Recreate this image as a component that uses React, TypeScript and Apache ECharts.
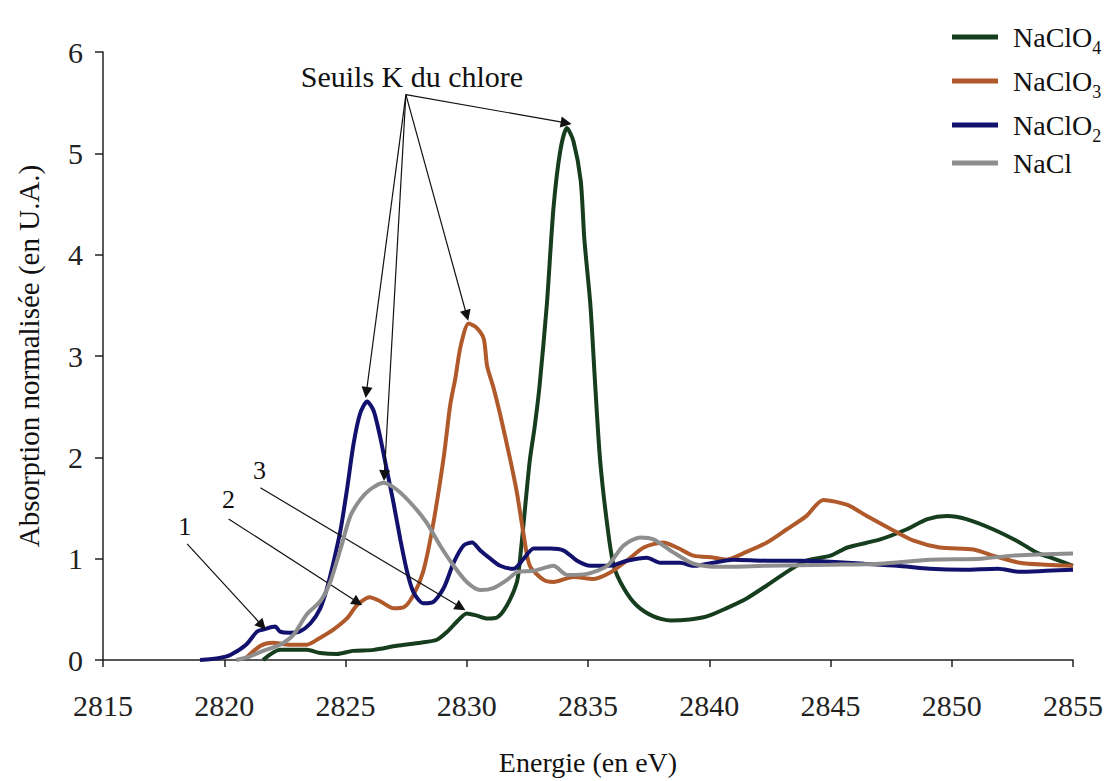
import React, { useEffect, useRef } from "react";
import * as echarts from "echarts";

// ---- axis ----
const xMin = 2815;
const xMax = 2855;
const xStep = 5;
const yMin = 0;
const yMax = 6;
const yStep = 1;

// ---- series (energy in eV, normalised absorption) ----
const seriesNames = ["NaClO4", "NaClO3", "NaClO2", "NaCl"];
const seriesColors = ["#163e1e", "#b05a2c", "#12126e", "#8e8e8e"];

const energyNaClO4 = [
  2821.6, 2822.3, 2823.4, 2823.96, 2824.65, 2825.3, 2826.16, 2827.12, 2828.1, 2828.77, 2829.2, 2829.6,
  2830.0, 2830.4, 2830.84, 2831.25, 2831.66, 2832.07, 2832.2, 2832.4, 2832.6, 2832.8, 2833.0, 2833.3,
  2833.58, 2833.86, 2834.13, 2834.4, 2834.7, 2834.85, 2835.1, 2835.3, 2835.5, 2835.8, 2836.06, 2836.47,
  2837.0, 2837.7, 2838.4, 2839.2, 2839.9, 2840.7, 2841.56, 2842.4, 2843.2, 2844.0, 2845.0, 2845.7,
  2847.05, 2848.15, 2849.0, 2849.8, 2850.6, 2851.7, 2852.8, 2853.5, 2854.2, 2855.0,
];
const valuesNaClO4 = [
  0.0, 0.1, 0.1, 0.07, 0.06, 0.09, 0.1, 0.14, 0.17, 0.2, 0.28, 0.38,
  0.46, 0.44, 0.41, 0.42, 0.54, 0.77, 1.0, 1.49, 1.97, 2.3, 2.7, 3.5,
  4.47, 5.03, 5.25, 5.12, 4.73, 4.15, 3.5, 2.7, 1.97, 1.32, 0.93, 0.71,
  0.54, 0.43, 0.39, 0.4, 0.43, 0.51, 0.61, 0.74, 0.87, 0.98, 1.03, 1.11,
  1.19, 1.29, 1.39, 1.42, 1.39, 1.29, 1.16, 1.06, 1.0, 0.93,
];

const energyNaClO3 = [
  2820.9, 2821.5, 2822.0, 2822.7, 2823.4, 2823.96, 2824.5, 2825.06, 2825.47, 2826.0, 2826.43, 2826.98,
  2827.4, 2827.8, 2828.2, 2828.6, 2829.05, 2829.32, 2829.53, 2829.75, 2830.08, 2830.4, 2830.7, 2830.84,
  2831.1, 2831.38, 2831.8, 2832.07, 2832.35, 2832.6, 2833.17, 2833.58, 2834.4, 2835.23, 2835.9, 2836.6,
  2837.3, 2838.1, 2838.67, 2839.35, 2840.2, 2840.7, 2841.56, 2842.38, 2843.2, 2844.0, 2844.7, 2845.7,
  2846.5, 2847.5, 2848.4, 2849.5, 2850.9, 2851.7, 2852.8, 2853.9, 2855.0,
];
const valuesNaClO3 = [
  0.02, 0.14, 0.17, 0.15, 0.15, 0.22, 0.3, 0.41, 0.54, 0.62, 0.58, 0.51,
  0.52, 0.64, 0.87, 1.32, 2.0, 2.52, 2.78, 3.1, 3.32, 3.28, 3.17, 2.9,
  2.69, 2.42, 1.97, 1.65, 1.23, 0.93, 0.79, 0.77, 0.82, 0.8, 0.86, 0.98,
  1.11, 1.16, 1.11, 1.03, 1.01, 0.99, 1.07, 1.16, 1.29, 1.42, 1.58, 1.53,
  1.42, 1.29, 1.18, 1.11, 1.09, 1.03, 0.96, 0.94, 0.93,
];

const energyNaClO2 = [
  2819.0, 2819.8, 2820.25, 2820.9, 2821.35, 2821.6, 2822.1, 2822.3, 2822.7, 2823.1, 2823.55, 2823.96,
  2824.24, 2824.5, 2824.8, 2825.06, 2825.33, 2825.6, 2825.89, 2826.16, 2826.43, 2826.7, 2826.98, 2827.26,
  2827.54, 2827.8, 2828.2, 2828.6, 2829.05, 2829.46, 2829.87, 2830.22, 2830.56, 2830.97, 2831.38, 2831.93,
  2832.35, 2832.76, 2833.45, 2834.0, 2834.55, 2835.1, 2835.9, 2836.6, 2837.43, 2837.98, 2838.8, 2839.35,
  2841.0, 2842.38, 2843.75, 2845.0, 2846.4, 2847.74, 2849.1, 2850.5, 2851.9, 2852.8, 2853.9, 2855.0,
];
const valuesNaClO2 = [
  0.0, 0.02, 0.05, 0.15, 0.28, 0.3, 0.33, 0.28, 0.27, 0.28, 0.36, 0.51,
  0.71, 0.96, 1.29, 1.68, 2.13, 2.43, 2.55, 2.46, 2.2, 1.88, 1.55, 1.19,
  0.87, 0.67, 0.56, 0.57, 0.71, 0.96, 1.13, 1.16, 1.08, 1.0, 0.93, 0.9,
  1.0, 1.1, 1.1, 1.08, 0.98, 0.93, 0.93, 0.98, 1.01, 0.96, 0.96, 0.93,
  0.99, 0.98, 0.98, 0.97, 0.95, 0.93, 0.9, 0.89, 0.9, 0.87, 0.88, 0.89,
];

const energyNaCl = [
  2820.5, 2821.0, 2821.6, 2822.3, 2822.86, 2823.4, 2823.96, 2824.37, 2824.8, 2825.2, 2825.6, 2826.0,
  2826.57, 2827.12, 2827.8, 2828.36, 2828.9, 2829.46, 2830.0, 2830.56, 2831.1, 2831.66, 2832.1, 2832.76,
  2833.58, 2834.13, 2834.96, 2835.8, 2836.47, 2837.16, 2837.7, 2838.53, 2839.35, 2840.46, 2842.38, 2845.0,
  2847.05, 2849.1, 2851.2, 2852.5, 2855.0,
];
const valuesNaCl = [
  0.0, 0.03, 0.09, 0.15, 0.25, 0.45, 0.58, 0.77, 1.1, 1.42, 1.58, 1.68,
  1.75, 1.68, 1.52, 1.35, 1.13, 0.93, 0.77, 0.69, 0.71, 0.79, 0.87, 0.88,
  0.93, 0.84, 0.85, 0.93, 1.13, 1.21, 1.19, 1.06, 0.95, 0.92, 0.93, 0.94,
  0.95, 0.99, 1.0, 1.03, 1.05,
];

// ---- annotations (data coordinates) ----
const annotationTexts = [
  { text: "Seuils K du chlore", x: 2827.74, y: 5.76, size: 30 },
  { text: "1", x: 2818.37, y: 1.315, size: 26 },
  { text: "2", x: 2820.18, y: 1.58, size: 26 },
  { text: "3", x: 2821.45, y: 1.874, size: 26 },
];
const arrowStarts = [
  [2827.49, 5.58],
  [2827.49, 5.58],
  [2827.49, 5.58],
  [2827.49, 5.58],
  [2818.47, 1.146],
  [2820.18, 1.392],
  [2821.49, 1.7],
];
const arrowEnds = [
  [2834.1, 5.3],
  [2830.0, 3.4],
  [2825.86, 2.64],
  [2826.6, 1.82],
  [2821.56, 0.34],
  [2825.5, 0.57],
  [2829.75, 0.52],
];

const FONT = "Liberation Serif";

const zip = (xs: number[], ys: number[]) => xs.map((x, i) => [x, ys[i]]);
const seriesData = [
  zip(energyNaClO4, valuesNaClO4),
  zip(energyNaClO3, valuesNaClO3),
  zip(energyNaClO2, valuesNaClO2),
  zip(energyNaCl, valuesNaCl),
];
const subscripts = ["4", "3", "2", ""];

export default function App() {
  const ref = useRef<HTMLDivElement>(null);
  useEffect(() => {
    const chart = echarts.init(ref.current!, undefined, { renderer: "svg" });
    const series: any[] = seriesNames.map((name, i) => ({
      name,
      type: "line",
      data: seriesData[i],
      showSymbol: false,
      symbol: "none",
      smooth: 0.25,
      lineStyle: { color: seriesColors[i], width: 4 },
      itemStyle: { color: seriesColors[i] },
      z: 2 + i,
    }));
    series.push({
      name: "annotations",
      type: "line",
      data: [],
      z: 10,
      markLine: {
        silent: true,
        symbol: ["none", "triangle"],
        symbolSize: 11,
        label: { show: false },
        lineStyle: { color: "#111", width: 1.2, type: "solid" },
        emphasis: { disabled: true },
        data: arrowStarts.map((s, i) => [{ coord: s }, { coord: arrowEnds[i] }]),
      },
      markPoint: {
        silent: true,
        symbol: "circle",
        symbolSize: 1,
        itemStyle: { color: "rgba(0,0,0,0)" },
        data: annotationTexts.map((a) => ({
          coord: [a.x, a.y],
          label: {
            show: true,
            position: "inside",
            formatter: a.text,
            color: "#111",
            fontFamily: FONT,
            fontSize: a.size,
          },
        })),
      },
    });

    chart.setOption({
      animation: false,
      backgroundColor: "#ffffff",
      textStyle: { fontFamily: FONT },
      grid: { left: 103, right: 38, top: 52, bottom: 115, containLabel: false },
      legend: {
        data: seriesNames,
        orient: "vertical",
        left: 947,
        top: 12,
        itemWidth: 46,
        itemHeight: 5,
        itemGap: 4,
        icon: "rect",
        selectedMode: false,
        formatter: (name: string) => {
          const i = seriesNames.indexOf(name);
          const base = name.replace(/\d$/, "");
          return subscripts[i] ? `{a|${base}}{s|${subscripts[i]}}` : `{a|${base}}`;
        },
        textStyle: {
          color: "#111",
          fontFamily: FONT,
          rich: {
            a: { fontSize: 28, lineHeight: 40, padding: [0, 0, 0, 10], fontFamily: FONT, color: "#111" },
            s: { fontSize: 18, lineHeight: 18, padding: [22, 0, 0, 0], fontFamily: FONT, color: "#111" },
          },
        },
      },
      xAxis: {
        type: "value",
        min: xMin,
        max: xMax,
        interval: xStep,
        name: "Energie (en eV)",
        nameLocation: "middle",
        nameGap: 88,
        nameTextStyle: { fontSize: 28, color: "#111", fontFamily: FONT },
        axisLine: { show: true, onZero: false, lineStyle: { color: "#222", width: 1.5 } },
        axisTick: { show: true, length: 7, lineStyle: { color: "#222", width: 1.5 } },
        axisLabel: {
          fontSize: 30,
          color: "#222",
          margin: 30,
          fontFamily: FONT,
          formatter: (v: number) => String(v),
        },
        splitLine: { show: false },
      },
      yAxis: {
        type: "value",
        min: yMin,
        max: yMax,
        interval: yStep,
        name: "Absorption normalisée (en U.A.)",
        nameLocation: "middle",
        nameGap: 60,
        nameTextStyle: { fontSize: 29, color: "#111", fontFamily: FONT },
        axisLine: { show: true, lineStyle: { color: "#222", width: 1.5 } },
        axisTick: { show: true, length: 8, lineStyle: { color: "#222", width: 1.5 } },
        axisLabel: {
          fontSize: 30,
          color: "#222",
          margin: 20,
          fontFamily: FONT,
          formatter: (v: number) => String(v),
        },
        splitLine: { show: false },
      },
      series,
    });
    return () => chart.dispose();
  }, []);
  return (
    <div
      ref={ref}
      style={{ position: "fixed", left: 0, top: 0, width: 1111, height: 781, background: "#fff" }}
    />
  );
}
